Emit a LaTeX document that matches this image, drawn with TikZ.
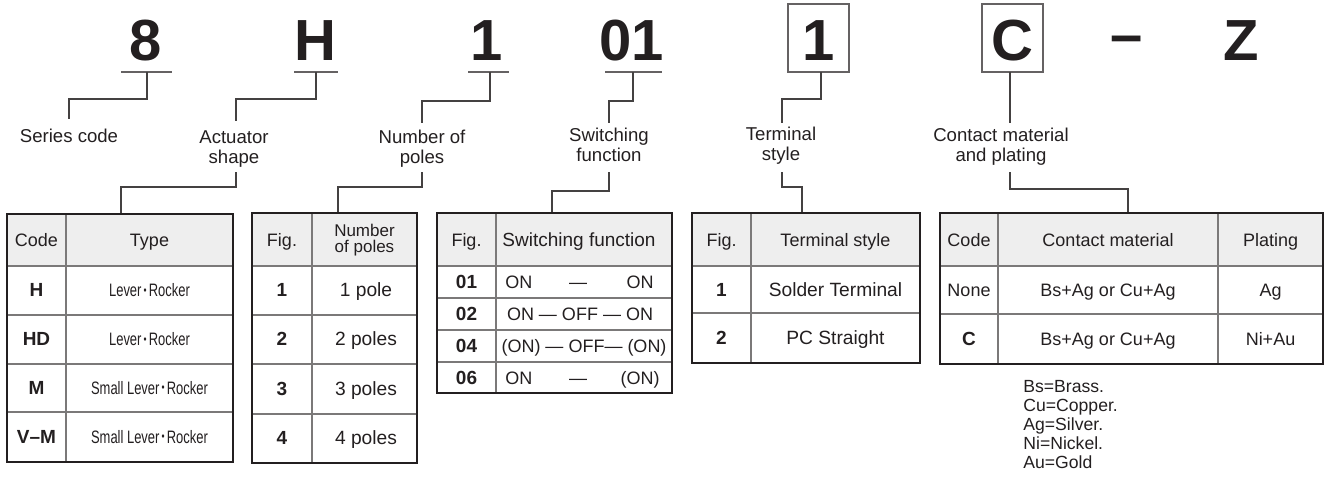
\documentclass[tikz,border=0pt]{standalone}
\usepackage{fontspec}
\setmainfont{Liberation Sans}
\usepackage{graphicx}
\definecolor{ink}{HTML}{231F20}
\newcommand\narw[1]{\scalebox{0.72}[1]{#1}}
\newcommand\mdot{\,\raisebox{0.25ex}{\fontsize{6}{6}\selectfont•}\,}
\begin{document}
\begin{tikzpicture}[x=0.5pt,y=-0.5pt,
  big/.style={font=\fontsize{29}{29}\selectfont\bfseries, inner sep=0, anchor=base, text=ink},
  lbl/.style={font=\fontsize{9.3}{9.8}\selectfont, align=center, inner sep=0, anchor=base, text=ink},
  conn/.style={draw=ink!85, line width=0.55pt},
  uline/.style={draw=ink!70, line width=0.6pt},
  boxc/.style={draw=ink!70, line width=0.7pt},
  tout/.style={draw=ink, line width=0.9pt},
  tin/.style={draw=ink!60, line width=0.55pt},
  hdr/.style={fill=gray!13},
  cell/.style={font=\fontsize{9}{9}\selectfont, inner sep=0, anchor=base, text=ink},
  cellL/.style={font=\fontsize{9.6}{10}\selectfont, inner sep=0, anchor=base, text=ink},
  codec/.style={font=\fontsize{9.5}{10}\selectfont\bfseries, inner sep=0, anchor=base, text=ink},
  note/.style={font=\fontsize{8.8}{9.4}\selectfont, inner sep=0, align=left, anchor=base west, text=ink}
]
\useasboundingbox (0,0) rectangle (1327,488);

% ---- code characters ----
\node[big] (n8) at (146,60) {8};
\node[big] (nH) at (315,60) {H};
\node[big] (n1) at (487,60) {1};
\node[big] (n01) at (632,60) {01};
\node[big] (nT) at (818.5,60) {1};
\node[big] (nC) at (1012.5,60) {C};
\node[big] (nd) at (1127,54) {–};
\node[big] (nZ) at (1241,60) {Z};
\draw[boxc] (788,4) rectangle (849,72);
\draw[boxc] (982,4) rectangle (1043,72);
\draw[uline] (121,72) -- (172,72);
\draw[uline] (294,72) -- (338,72);
\draw[uline] (468,72) -- (509,72);
\draw[uline] (605,72) -- (662,72);

% ---- labels (anchor = baseline of last line) ----
\node[lbl] (lS) at (69,142) {Series code};
\node[lbl] (lA) at (234,163) {Actuator\\shape};
\node[lbl] (lP) at (422,163) {Number of\\poles};
\node[lbl] (lW) at (609,161) {Switching\\function};
\node[lbl] (lT) at (781,160) {Terminal\\style};
\node[lbl] (lC) at (1001,161) {Contact material\\and plating};

% ---- connector end points ----
\coordinate (a8) at (147,72);   \coordinate (s8) at (69,119);
\coordinate (aH) at (316,72);   \coordinate (sH) at (236,121);
\coordinate (a1) at (490,72);   \coordinate (s1) at (422,123);
\coordinate (a01) at (633,72);  \coordinate (s01) at (609,123);
\coordinate (aT) at (821,72);   \coordinate (sT) at (782,123);
\coordinate (aC) at (1010,72);  \coordinate (sC) at (1010,123);
\coordinate (bA) at (236,172);  \coordinate (t1) at (121,213);
\coordinate (bP) at (422,172);  \coordinate (t2) at (338,213);
\coordinate (bW) at (609,172);  \coordinate (t3) at (552,213);
\coordinate (bT) at (782,172);  \coordinate (t4) at (802,213);
\coordinate (bC) at (1010,172); \coordinate (t5) at (1128,213);

\draw[conn] (a8) -- ++(0,27) -| (s8);
\draw[conn] (aH) -- ++(0,27) -| (sH);
\draw[conn] (a1) -- ++(0,29) -| (s1);
\draw[conn] (a01) -- ++(0,29) -| (s01);
\draw[conn] (aT) -- ++(0,27) -| (sT);
\draw[conn] (aC) -- (sC);
\draw[conn] (bA) -- ++(0,15) -| (t1);
\draw[conn] (bP) -- ++(0,15) -| (t2);
\draw[conn] (bW) -- ++(0,19) -| (t3);
\draw[conn] (bT) -- ++(0,15) -| (t4);
\draw[conn] (bC) -- ++(0,17) -| (t5);

% ---- table 1 ----
\fill[hdr] (7,214) rectangle (233,266);
\draw[tin] (66,214) -- (66,462);
\foreach \y in {266,315,364,412} \draw[tin] (7,\y) -- (233,\y);
\draw[tout] (7,214) rectangle (233,462);
\node[cell] (t1h1) at (36.5,246) {Code};
\node[cell] (t1h2) at (149.5,246) {Type};
\node[codec] (t1a) at (36.5,296.5) {H};
\node[codec] (t1b) at (36.5,345.5) {HD};
\node[codec] (t1c) at (36.5,394) {M};
\node[codec] (t1d) at (36.5,443) {V–M};
\node[cell] (t1e) at (149.5,296.5) {\narw{Lever\mdot Rocker}};
\node[cell] (t1f) at (149.5,345.5) {\narw{Lever\mdot Rocker}};
\node[cell] (t1g) at (149.5,394) {\narw{Small Lever\mdot Rocker}};
\node[cell] (t1h) at (149.5,443) {\narw{Small Lever\mdot Rocker}};

% ---- table 2 ----
\fill[hdr] (252,213) rectangle (417,266);
\draw[tin] (312,213) -- (312,463);
\foreach \y in {266,315,364,414} \draw[tin] (252,\y) -- (417,\y);
\draw[tout] (252,213) rectangle (417,463);
\node[cell] (t2h1) at (282,246) {Fig.};
\node[cell, align=center, font=\fontsize{8.5}{7.8}\selectfont] (t2h2) at (364.5,252) {Number\\of poles};
\node[codec] (t2a) at (282,296.5) {1};
\node[codec] (t2b) at (282,345.5) {2};
\node[codec] (t2c) at (282,395) {3};
\node[codec] (t2d) at (282,444.5) {4};
\node[cellL] (t2e) at (366,296.5) {1 pole};
\node[cellL] (t2f) at (366,345.5) {2 poles};
\node[cellL] (t2g) at (366,395) {3 poles};
\node[cellL] (t2h) at (366,444.5) {4 poles};

% ---- table 3 ----
\fill[hdr] (437,213) rectangle (672,266);
\draw[tin] (496,213) -- (496,393);
\foreach \y in {266,298,330,362} \draw[tin] (437,\y) -- (672,\y);
\draw[tout] (437,213) rectangle (672,393);
\node[cell] (t3h1) at (466.5,246) {Fig.};
\node[cell, font=\fontsize{9.5}{10}\selectfont] (t3h2) at (579,246) {Switching function};
\node[codec] (t3a) at (466.5,288.5) {01};
\node[codec] (t3b) at (466.5,320.5) {02};
\node[codec] (t3c) at (466.5,352.5) {04};
\node[codec] (t3d) at (466.5,384) {06};
\node[cell, anchor=base west] (t3e1) at (505,288.5) {ON};
\node[cell] (t3e2) at (578,288.5) {—};
\node[cell, anchor=base east] (t3e3) at (654,288.5) {ON};
\node[cell] (t3f) at (580,320.5) {ON — OFF — ON};
\node[cell] (t3g) at (584,352.5) {(ON) — OFF— (ON)};
\node[cell, anchor=base west] (t3h1b) at (505,384) {ON};
\node[cell] (t3h2b) at (578,384) {—};
\node[cell, anchor=base east] (t3h3b) at (660,384) {(ON)};

% ---- table 4 ----
\fill[hdr] (692,213) rectangle (920,266);
\draw[tin] (751,213) -- (751,363);
\draw[tin] (692,266) -- (920,266);
\draw[tin] (692,313) -- (920,313);
\draw[tout] (692,213) rectangle (920,363);
\node[cell] (t4h1) at (721.5,246) {Fig.};
\node[cell] (t4h2) at (835.5,246) {Terminal style};
\node[codec] (t4a) at (721.5,296) {1};
\node[codec] (t4b) at (721.5,344.5) {2};
\node[cellL] (t4c) at (835.5,296) {Solder Terminal};
\node[cellL] (t4d) at (835.5,344.5) {PC Straight};

% ---- table 5 ----
\fill[hdr] (940,213) rectangle (1323,266);
\draw[tin] (998,213) -- (998,364);
\draw[tin] (1218,213) -- (1218,364);
\draw[tin] (940,266) -- (1323,266);
\draw[tin] (940,314) -- (1323,314);
\draw[tout] (940,213) rectangle (1323,364);
\node[cell] (t5h1) at (969,246) {Code};
\node[cell] (t5h2) at (1108,246) {Contact material};
\node[cell] (t5h3) at (1270.5,246) {Plating};
\node[cell] (t5a) at (969,296) {None};
\node[codec] (t5b) at (969,345.5) {C};
\node[cell] (t5c) at (1108,296) {Bs+Ag or Cu+Ag};
\node[cell] (t5d) at (1108,345.5) {Bs+Ag or Cu+Ag};
\node[cell] (t5e) at (1270.5,296) {Ag};
\node[cell] (t5f) at (1270.5,345.5) {Ni+Au};

% ---- notes ----
\node[note] (notes) at (1023,468) {Bs=Brass.\\Cu=Copper.\\Ag=Silver.\\Ni=Nickel.\\Au=Gold};
\end{tikzpicture}
\end{document}
